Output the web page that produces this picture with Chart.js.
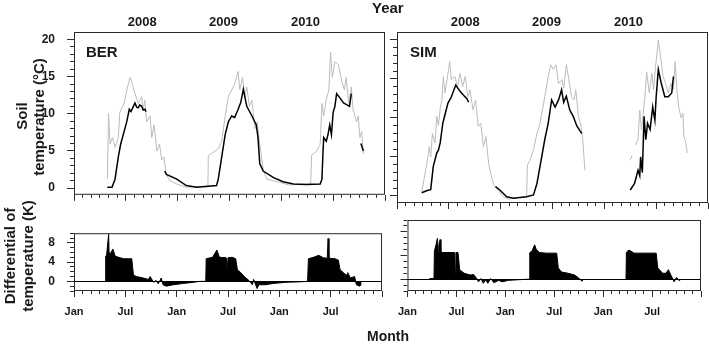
<!DOCTYPE html>
<html>
<head>
<meta charset="utf-8">
<script src="https://cdn.jsdelivr.net/npm/chart.js@4.4.1/dist/chart.umd.min.js"></script>
<style>
  body { margin: 0; background: #fff; width: 709px; height: 344px; position: relative; overflow: hidden;
         font-family: 'Liberation Sans', Arial, Helvetica, sans-serif; }
  canvas { position: absolute; }
  .lbl { position: absolute; font-weight: bold; color: #1a1a1a; white-space: nowrap; line-height: 1; }
  .vt { position: absolute; font-weight: bold; color: #1a1a1a; white-space: nowrap; font-size: 15px;
        line-height: 15px; transform: translate(-50%, -50%) rotate(-90deg); }
</style>
</head>
<body>
<canvas id="berSoil" width="390" height="214" style="left:0;top:0"></canvas>
<canvas id="simSoil" width="319" height="214" style="left:390px;top:0"></canvas>
<canvas id="berDiff" width="390" height="130" style="left:0;top:214px"></canvas>
<canvas id="simDiff" width="319" height="130" style="left:390px;top:214px"></canvas>
<div class="lbl" style="left:86px;top:44px;font-size:15px">BER</div>
<div class="lbl" style="left:410px;top:44px;font-size:15px">SIM</div>
<div class="lbl" style="left:372px;top:0px;font-size:15px">Year</div>
<div class="lbl" style="left:367px;top:329px;font-size:14px">Month</div>
<div class="vt" style="left:21px;top:116px">Soil</div>
<div class="vt" style="left:38px;top:117px">temperature (°C)</div>
<div class="vt" style="left:9px;top:256px">Differential of</div>
<div class="vt" style="left:27px;top:256px">temperature (K)</div>
<script>
// ---- axis ticks / labels (months counted from Jan of first year) ----
var monthMajor = [0, 6, 12, 18, 24, 30, 36];
var monthMinor = [0, 1, 2, 3, 4, 5, 6, 7, 8, 9, 10, 11, 12, 13, 14, 15, 16, 17, 18,
  19, 20, 21, 22, 23, 24, 25, 26, 27, 28, 29, 30, 31, 32, 33, 34, 35, 36];
var monthLabels = ['Jan', 'Jul', 'Jan', 'Jul', 'Jan', 'Jul', ''];
var yearPos = [7.9, 17.3, 26.8];
var yearLabels = ['2008', '2009', '2010'];
var soilMajor = [0, 5, 10, 15, 20];
var soilMinor = [0, 1, 2, 3, 4, 5, 6, 7, 8, 9, 10, 11, 12, 13, 14, 15, 16, 17, 18, 19, 20];
var diffMajor = [0, 4, 8];
var diffMinor = [-2, -1, 0, 1, 2, 3, 4, 5, 6, 7, 8, 9, 10];

// ---- BER soil temperature ----
var berGrayM = [3.86, 4.0, 4.17, 4.47, 4.75, 5.13, 5.3, 5.8, 6.2, 6.5, 6.7, 7.06, 7.45, 7.83, 8.0, 8.2,
  8.4, 8.8, 9.0, 9.26, 9.6, 9.9, 10.15, 10.4, 10.7, 11.1, 11.9, 13.0, 14.5, 15.5,
  15.55, 16.1, 16.7, 17.1, 17.5, 17.86, 18.25, 18.6, 19.0, 19.2, 19.5, 19.8, 20.0, 20.3, 20.6,
  20.95, 21.2, 21.5, 21.9, 22.3, 23.8, 24.9, 27.4,
  27.5, 28.1, 28.5, 28.7, 28.9, 29.2, 29.5, 29.7, 29.9, 30.2, 30.6, 31.0, 31.3, 31.5, 31.8, 32.1,
  32.3, 32.7, 32.9, 33.1, 33.3, 33.5];
var berGrayV = [1.2, 10.0, 5.9, 6.8, 5.5, 6.8, 10.2, 11.4, 13.6, 14.9, 14.2, 12.7, 11.4, 12.3, 10.5, 11.8,
  8.9, 9.7, 6.8, 8.5, 5.0, 5.9, 3.8, 4.2, 1.8, 1.0, 0.55, 0.13, 0.2, 0.2,
  4.4, 4.8, 5.3, 6.3, 9.7, 12.3, 13.2, 14.0, 15.7, 13.2, 14.9, 12.3, 13.6, 11.0, 11.8,
  8.0, 8.9, 5.9, 2.5, 1.2, 0.77, 0.43, 0.55,
  4.4, 5.0, 5.9, 11.4, 9.7, 11.9, 13.2, 18.3, 14.9, 17.0, 16.6, 14.4, 13.2, 14.9, 11.4, 13.6,
  10.6, 8.9, 9.7, 6.8, 7.6, 4.6];
var berBlackM = [3.86, 4.4, 4.75, 5.13, 5.4, 5.7, 6.1, 6.4, 6.6, 6.87, 7.06, 7.25, 7.45, 7.6, 7.83, 8.0,
  8.2, 8.35, 9.4, 10.5, 10.7, 11.9, 13.0, 14.2, 16.5, 16.7, 17.1, 17.5, 17.86, 18.25, 18.6, 19.0,
  19.3, 19.6, 20.0, 20.6, 21.1, 21.3, 21.5, 21.9, 23.1, 24.2, 25.4, 26.9, 28.5, 28.7, 28.8, 28.9,
  29.2, 29.4, 29.6, 29.8, 30.0, 30.2, 30.4, 30.8, 31.2, 31.6, 31.9, 32.1, 32.6, 33.2, 33.3, 33.5];
var berBlackV = [0.1, 0.1, 1.2, 4.2, 5.9, 7.2, 8.9, 10.6, 10.3, 11.0, 11.45, 10.9, 10.8, 11.2, 11.0, 10.5,
  10.6, 10.3, null, 2.3, 1.85, 1.2, 0.35, 0.13, 0.35, 1.2, 4.2, 7.2, 8.9, 9.7, 9.5, 10.6,
  11.5, 13.3, 11.0, 9.7, 8.5, 6.8, 3.3, 2.3, 1.4, 0.86, 0.55, 0.47, 0.55, 1.2, 4.2, 6.8,
  6.3, 7.2, 8.5, 7.2, 10.2, 11.0, 12.7, 12.1, 11.45, 11.2, 11.0, 12.7, null, 6.0, 5.7, 5.0];

// ---- SIM soil temperature ----
var simGrayM = [2.86, 3.4, 3.74, 3.9, 4.1, 4.4, 4.6, 4.8, 5.0, 5.2, 5.36, 5.55, 5.8, 6.1, 6.3, 6.7,
  7.0, 7.3, 7.6, 7.9, 8.2, 8.45, 8.8, 9.1, 9.4, 9.7, 10.0, 10.3, 10.6, 10.85, 11.2, 11.7,
  12.3, 12.9, 13.9, 15.0, 15.1, 15.4, 15.8, 16.2, 16.55, 16.9, 17.25, 17.5, 17.8, 18.1, 18.4,
  18.7, 19.1, 19.3, 19.6, 19.9, 20.2, 20.5, 20.7, 21.0, 21.3, 21.5, 21.75, 24.0,
  27.0, 27.2, 27.4, 27.6, 27.7, 27.9, 28.1, 28.3, 28.7, 28.9, 29.2, 29.5, 29.7, 29.9, 30.25,
  30.5, 30.8, 31.1, 31.4, 31.7, 32.0, 32.2, 32.4, 32.6, 32.9, 33.1, 33.2, 33.4, 33.6];
var simGrayV = [0.5, 3.8, 6.3, 5.0, 8.0, 6.8, 10.2, 9.0, 11.2, 12.3, 15.3, 13.2, 14.9, 17.2, 14.9, 15.3,
  14.0, 15.7, 14.0, 15.3, 12.7, 13.6, 11.0, 12.3, 8.9, 9.3, 6.3, 7.6, 4.2, 2.9, 1.4, 0.77,
  -0.1, -0.4, -0.2, -0.1, 4.0, 4.6, 5.9, 8.0, 9.3, 11.4, 13.6, 15.3, 16.8, 16.2, 16.8,
  14.4, 14.9, 13.8, 16.8, 14.9, 12.7, 12.3, 13.6, 10.2, 9.0, 7.2, 3.3, null,
  4.6, 5.2, null, 6.5, 6.8, 7.2, 11.0, 8.5, 12.7, 15.9, 13.2, 15.7, 13.6, 16.2, 20.0,
  17.9, 15.3, 14.4, 13.2, 14.4, 13.6, 17.2, 13.6, 11.4, 10.0, 10.6, 7.6, 7.0, 5.5];
var simBlackM = [2.86, 3.5, 3.9, 4.2, 4.6, 4.8, 5.0, 5.3, 5.55, 5.9, 6.3, 6.8, 7.3, 7.7, 8.07, 8.3,
  10.5, 11.4, 11.9, 12.7, 13.5, 15.0, 15.8, 16.2, 16.75, 17.1, 17.5, 17.9,
  18.3, 18.7, 19.05, 19.3, 19.6, 20.0, 20.4, 20.8, 21.2, 21.4, 24.0,
  27.0, 27.5, 27.9, 28.1, 28.2, 28.4, 28.6, 28.8, 29.0, 29.3, 29.6, 29.85, 30.0, 30.25, 30.6,
  31.0, 31.4, 31.8, 32.0];
var simBlackV = [0.42, 0.7, 0.8, 3.8, 5.5, 5.9, 6.8, 9.3, 10.4, 11.9, 12.7, 14.2, 13.4, 12.9, 12.5, 12.0,
  null, 1.2, 0.77, -0.1, -0.3, -0.1, 0.13, 1.6, 5.0, 7.2, 9.3, 12.3,
  11.4, 12.3, 13.6, 12.0, 12.8, 11.0, 10.2, 9.0, 8.3, 8.0, null,
  0.77, 1.6, 3.3, 2.6, 5.0, 3.0, 10.2, 7.2, 9.3, 8.5, 11.4, 9.7, 12.7, 16.2, 14.4,
  12.7, 12.7, 13.2, 15.3];

// ---- differential of temperature (K) ----
var berDiffM = [3.67, 3.7, 3.8, 4.05, 4.1, 4.25, 4.55, 4.8, 5.2, 5.8, 6.4, 6.75, 6.95, 7.3, 8.1, 8.7,
  8.9, 9.3, 9.6, 9.85, 10.2, 10.4, 10.8, 11.6, 12.7, 13.9, 14.7, 15.4, 15.45, 16.2, 16.7, 17.0,
  17.8, 17.9, 18.0, 18.5, 18.9, 19.1, 19.5, 19.9, 20.1, 20.5, 20.85, 21.0, 21.4, 21.6, 22.4, 23.2,
  24.7, 26.3, 27.3, 27.4, 28.0, 28.6, 29.15, 29.6, 29.7, 29.8, 30.5, 30.9, 31.1, 31.5, 31.85,
  32.0, 32.3, 32.8, 33.0, 33.4, 33.6];
var berDiffV = [0, 5.25, 5.25, 9.8, 6.0, 5.8, 6.7, 5.25, 5.0, 4.7, 4.7, 4.7, 1.3, 1.0, 0.7, 0.4,
  1.0, -0.2, 0.2, -0.5, 0.7, -0.7, -1.0, -0.7, -0.45, -0.2, 0, 0, 4.7, 5.0, 6.5, 5.0,
  4.9, 2.0, 4.9, 5.0, 4.7, 2.4, 1.8, 1.0, 0.7, 0.1, -0.7, 0.4, -1.5, -0.7, -0.7, -0.45,
  -0.2, -0.1, 0, 4.7, 5.0, 5.4, 4.9, 4.8, 8.9, 4.8, 4.7, 4.4, 2.4, 1.8, 1.2,
  1.8, 0.7, 1.0, -0.7, -1.0, -0.5];
var simDiffM = [2.7, 3.25, 3.3, 3.5, 3.67, 3.78, 3.86, 4.0, 4.1, 4.6, 5.8, 5.87, 5.95, 6.2, 6.4, 6.95,
  7.7, 8.1, 8.5, 8.7, 9.0, 9.3, 9.6, 9.85, 10.2, 10.6, 11.2, 11.6, 12.4, 13.5, 14.97, 15.0,
  15.25, 15.6, 15.8, 16.2, 17.0, 18.3, 18.5, 18.9, 19.7, 20.5, 21.0, 21.4, 21.6, 24.0,
  26.8, 26.85, 27.1, 27.15, 27.2, 27.8, 30.5, 30.7, 31.3, 31.7, 32.0, 32.3, 32.7, 33.0, 33.4];
var simDiffV = [0.1, 0.1, 4.7, 5.8, 6.9, 4.5, 5.8, 6.7, 4.5, 4.5, 4.5, 1.0, 4.5, 4.5, 1.6, 1.0,
  0.7, 0.8, 0.1, -0.45, 0.1, -0.7, -0.1, -0.7, 0.1, -0.6, -0.2, -0.45, -0.2, -0.1, 0, 4.5,
  4.7, 5.8, 5.0, 4.5, 4.4, 4.4, 1.9, 1.2, 1.0, 0.7, 0.2, -0.35, 0, null,
  0, 4.5, 4.9, 1.0, 4.9, 4.4, 4.4, 1.9, 1.0, 1.0, 1.6, 0.7, -0.45, 0.3, -0.35];

var FONT = "'Liberation Sans', Arial, Helvetica, sans-serif";
var INK = '#1a1a1a';
var FRAME = '#2a2a2a';
var GRAY = '#bcbcbc';

Chart.defaults.font.family = FONT;
Chart.defaults.color = INK;

function pts(ms, vs) {
  return ms.map(function(m, i) { return {x: m, y: vs[i]}; });
}

// replace generated ticks with a fixed list
function fixTicks(list) {
  return function(scale) {
    scale.ticks = list.map(function(v) { return {value: v}; });
  };
}

var framePlugin = {
  id: 'frame',
  afterDraw: function(chart) {
    var a = chart.chartArea, ctx = chart.ctx;
    ctx.save();
    ctx.strokeStyle = FRAME;
    ctx.lineWidth = 1;
    ctx.strokeRect(a.left + 0.5, a.top + 0.5, a.right - a.left - 1, a.bottom - a.top - 1);
    ctx.restore();
  }
};

function monthScales(showLabels, bottomHeight) {
  return {
    x: {
      type: 'linear', position: 'bottom', min: 0, max: 36, weight: 1,
      afterBuildTicks: fixTicks(monthMajor),
      afterFit: function(s) { s.height = bottomHeight; },
      grid: {drawOnChartArea: false, tickLength: 6, color: FRAME, tickColor: FRAME, tickWidth: 1},
      border: {display: false},
      ticks: {display: showLabels, autoSkip: false, maxRotation: 0, padding: 8,
        font: {size: 11, weight: 'bold'},
        callback: function(v, i) { return monthLabels[i]; }}
    },
    xm: {
      type: 'linear', position: 'bottom', min: 0, max: 36, weight: 0,
      afterBuildTicks: fixTicks(monthMinor),
      afterFit: function(s) { s.height = 0; },
      grid: {drawOnChartArea: false, tickLength: 3, color: FRAME, tickColor: FRAME, tickWidth: 1},
      border: {display: false},
      ticks: {display: false}
    }
  };
}

function valueScales(o) {
  return {
    y: {
      type: 'linear', position: 'left', min: o.min, max: o.max, weight: 1,
      afterBuildTicks: fixTicks(o.major),
      afterFit: function(s) { s.width = o.leftWidth; },
      grid: {
        drawOnChartArea: !!o.zeroLine, tickLength: 7, tickColor: FRAME, tickWidth: 1, lineWidth: 1,
        color: function(c) { return c.tick && c.tick.value === 0 ? '#000' : 'rgba(0,0,0,0)'; }
      },
      border: {display: false},
      ticks: {display: o.showLabels, padding: 12, font: {size: 12, weight: 'bold'}}
    },
    ym: {
      type: 'linear', position: 'left', min: o.min, max: o.max, weight: 0,
      afterBuildTicks: fixTicks(o.minor),
      afterFit: function(s) { s.width = 0; },
      grid: {drawOnChartArea: false, tickLength: 4, color: FRAME, tickColor: FRAME, tickWidth: 1},
      border: {display: false},
      ticks: {display: false}
    }
  };
}

function baseOptions(scales, padding) {
  return {
    responsive: false, animation: false, devicePixelRatio: 1, events: [],
    layout: {padding: padding},
    plugins: {legend: {display: false}, tooltip: {enabled: false}},
    elements: {point: {radius: 0}, line: {tension: 0}},
    scales: scales
  };
}

function soilChart(id, blackM, blackV, grayM, grayV, left) {
  var scales = Object.assign({}, monthScales(false, 11), valueScales({
    min: -0.9, max: 21, major: soilMajor, minor: soilMinor, showLabels: left,
    leftWidth: left ? 74 : 7
  }));
  scales.yr = {
    type: 'linear', position: 'top', min: 0, max: 36,
    afterBuildTicks: fixTicks(yearPos),
    afterFit: function(s) { s.height = 32; },
    grid: {display: false, drawTicks: false},
    border: {display: false},
    ticks: {autoSkip: false, maxRotation: 0, padding: 2, font: {size: 13, weight: 'bold'},
      callback: function(v, i) { return yearLabels[i]; }}
  };
  return new Chart(document.getElementById(id), {
    type: 'line',
    data: {datasets: [
      {data: pts(blackM, blackV), borderColor: '#000', borderWidth: 1.5, spanGaps: false},
      {data: pts(grayM, grayV), borderColor: GRAY, borderWidth: 1, spanGaps: false}
    ]},
    options: baseOptions(scales, {left: 0, top: 0, right: left ? 5 : 1, bottom: 0}),
    plugins: [framePlugin]
  });
}

function diffChart(id, m, v, left) {
  var scales = Object.assign({}, monthScales(true, 53), valueScales({
    min: -2, max: 10, major: diffMajor, minor: diffMinor, showLabels: left,
    leftWidth: left ? 74 : 7, zeroLine: true
  }));
  return new Chart(document.getElementById(id), {
    type: 'line',
    data: {datasets: [
      {data: pts(m, v), borderColor: '#000', backgroundColor: '#000', borderWidth: 1,
        fill: 'origin', spanGaps: false}
    ]},
    options: baseOptions(scales, {left: 0, top: 6, right: left ? 5 : 1, bottom: 0}),
    plugins: [framePlugin]
  });
}

soilChart('berSoil', berBlackM, berBlackV, berGrayM, berGrayV, true);
soilChart('simSoil', simBlackM, simBlackV, simGrayM, simGrayV, false);
diffChart('berDiff', berDiffM, berDiffV, true);
diffChart('simDiff', simDiffM, simDiffV, false);
</script>
</body>
</html>
